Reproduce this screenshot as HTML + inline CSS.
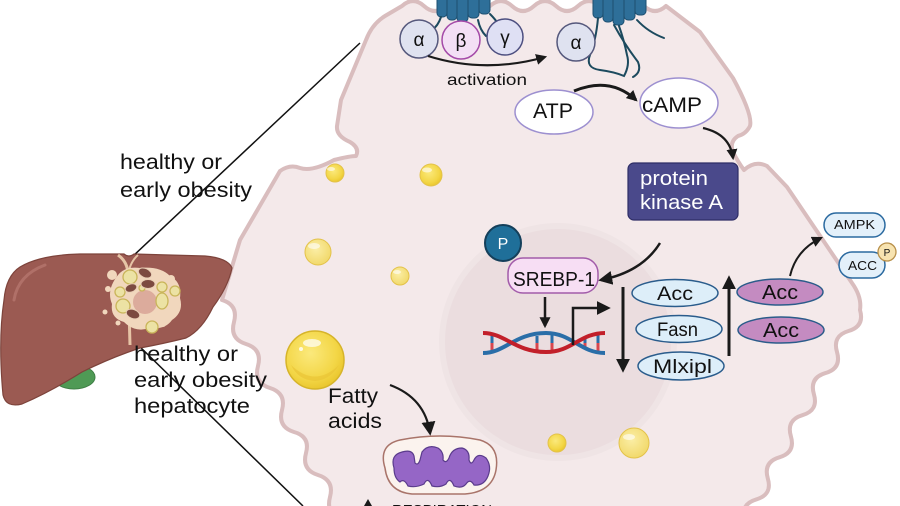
<!DOCTYPE html>
<html><head><meta charset="utf-8"><style>
html,body{margin:0;padding:0;background:#fff;width:900px;height:506px;overflow:hidden}
svg{display:block}
text{font-family:"Liberation Sans",Arial,sans-serif;fill:#111}
</style></head><body>
<svg width="900" height="506" viewBox="0 0 900 506" xmlns="http://www.w3.org/2000/svg">
<defs>
<marker id="ah" viewBox="0 0 10 10" refX="8" refY="5" markerWidth="11" markerHeight="11" markerUnits="userSpaceOnUse" orient="auto"><path d="M0,0 L10,5 L0,10 z" fill="#1a1a1a"/></marker>
<marker id="ahb" viewBox="0 0 10 10" refX="8" refY="5" markerWidth="14" markerHeight="14" markerUnits="userSpaceOnUse" orient="auto"><path d="M0,0 L10,5 L0,10 z" fill="#1a1a1a"/></marker>
<radialGradient id="yel" cx="0.42" cy="0.38" r="0.65"><stop offset="0" stop-color="#fbe97c"/><stop offset="0.7" stop-color="#f3d646"/><stop offset="1" stop-color="#e9c52c"/></radialGradient>
<radialGradient id="yelp" cx="0.42" cy="0.38" r="0.65"><stop offset="0" stop-color="#fbeea6"/><stop offset="1" stop-color="#f1d869"/></radialGradient>
</defs>

<!-- connector lines from liver -->
<line x1="132" y1="257" x2="360" y2="43" stroke="#111" stroke-width="1.5"/>
<line x1="135" y1="342" x2="303" y2="506" stroke="#111" stroke-width="1.5"/>

<!-- cells -->
<path d="M 402,6 Q 413,-4 424,6 Q 435,16 446,6 Q 457,-4 468,6 Q 479,16 490,6 Q 501,-4 512,6 Q 523,16 534,6 Q 545,-4 556,6 Q 567,16 578,6 Q 589,-4 600,6 Q 611,16 622,6 Q 633,-4 644,6 Q 655,16 666,6
L 700,32 L 733,78 Q 753,115 750,126 Q 746,134 738,136 Q 729,142 733,152 Q 738,162 744,170 Q 755,160 767,166 L 787,187 L 852,283 Q 862,297 860,310
Q 864.7,326.3 848.5,331 Q 832.2,335.8 837,352 Q 841.7,368.4 825.4,373.1 Q 809.2,377.9 813.9,394.2 Q 818.7,410.5 802.4,415.2 Q 786.1,420 790.9,436.3 Q 795.6,452.6 779.4,457.3 Q 763.1,462.1 767.8,478.4 Q 772.6,494.7 756.3,499.4 Q 740.1,504.2 744.8,520.5
L 342,520
Q 325.5,513.8 330,497 Q 334.5,480.2 318,475 Q 301.5,469.8 306,453 Q 310.5,436.7 294,432 Q 277.5,426.8 282,410 Q 286.5,393.2 270,388 Q 253.5,382.8 258,366 Q 262.5,349.2 246,344 Q 229.5,338.8 234,322 Q 238.5,305 222,300
L 240,240 L 280,171 Q 290,164 300,168 Q 312,172 334,160 Q 350,156 356,156 Q 360,148 350,142 Q 336,136 337,126 L 341,100 L 366,40 Q 372,24 385,16 Z"
fill="#f4e9ea" stroke="#d9bdbe" stroke-width="4" stroke-linejoin="round"/>

<!-- nucleus -->
<circle cx="558" cy="342" r="116" fill="#ebdddf" stroke="#efe4e5" stroke-width="6"/>

<!-- liver -->
<ellipse cx="74" cy="377" rx="21" ry="12" fill="#4f9a55" stroke="#3f7f45" stroke-width="1"/>
<path d="M 20,267 Q 40,255 80,254 L 124,254 Q 129,258 134,254 L 205,256 Q 228,258 232,268 Q 228,287 213,307 Q 202,330 186,338 Q 162,344 140,348 Q 110,358 82,372 Q 50,392 22,404 Q 6,408 3,395 Q -2,340 4,300 Q 6,276 20,267 Z" fill="#9b5a52" stroke="#7d433b" stroke-width="1.2"/>
<path d="M 14,300 Q 18,275 45,265" stroke="#b07068" stroke-width="3" fill="none" stroke-linecap="round"/>
<path d="M 118,255 Q 128,262 128,275 L 130,345" stroke="#e6c4a6" stroke-width="3" fill="none"/>
<path d="M 138,255 Q 130,262 128,275" stroke="#e6c4a6" stroke-width="2" fill="none"/>
<!-- lesion -->
<path d="M 118,275 Q 125,266 140,268 Q 160,266 170,276 Q 182,282 180,298 Q 184,312 172,320 Q 165,330 150,328 Q 135,333 124,322 Q 110,318 112,304 Q 106,290 118,275 Z" fill="#f1d7bd"/>
<circle cx="145" cy="302" r="12" fill="#dcab9c"/>
<g fill="#f1d7bd"><circle cx="112" cy="275" r="5"/><circle cx="108" cy="289" r="3"/><circle cx="171" cy="279" r="4"/><circle cx="176" cy="303" r="3"/><circle cx="105" cy="312" r="2.5"/><circle cx="172" cy="313" r="3"/><circle cx="163" cy="324" r="3"/><circle cx="118" cy="323" r="2.5"/></g>
<g fill="#ece2a4" stroke="#c9b55a" stroke-width="1.3"><circle cx="130" cy="277" r="7"/><circle cx="120" cy="292" r="5"/><circle cx="123" cy="306" r="7"/><circle cx="162" cy="287" r="5"/><circle cx="175" cy="291" r="5"/><ellipse cx="162" cy="301" rx="6" ry="8"/><circle cx="152" cy="327" r="6"/><circle cx="142" cy="288" r="3"/></g>
<g fill="#7c4a40" stroke="#e9cfb6" stroke-width="1"><ellipse cx="145" cy="273" rx="7" ry="4.5" transform="rotate(25 145 273)"/><ellipse cx="148" cy="284" rx="7" ry="4.5"/><ellipse cx="131" cy="288" rx="6" ry="4" transform="rotate(-20 131 288)"/><ellipse cx="133" cy="314" rx="7" ry="4.5" transform="rotate(20 133 314)"/></g>

<!-- labels left -->
<text x="120" y="169" font-size="21" textLength="102" lengthAdjust="spacingAndGlyphs">healthy or</text>
<text x="120" y="197" font-size="21" textLength="132" lengthAdjust="spacingAndGlyphs">early obesity</text>
<text x="134" y="361" font-size="21" textLength="104" lengthAdjust="spacingAndGlyphs">healthy or</text>
<text x="134" y="387" font-size="21" textLength="133" lengthAdjust="spacingAndGlyphs">early obesity</text>
<text x="134" y="413" font-size="21" textLength="116" lengthAdjust="spacingAndGlyphs">hepatocyte</text>

<!-- receptors -->
<g fill="#2e6f99" stroke="#1d4f70" stroke-width="1">
<rect x="437" y="-6" width="10" height="23" rx="4"/><rect x="447" y="-6" width="10" height="26" rx="4"/><rect x="457" y="-6" width="11" height="28" rx="4"/><rect x="468" y="-6" width="11" height="24" rx="4"/><rect x="479" y="-6" width="11" height="20" rx="4"/>
<rect x="593" y="-6" width="10" height="24" rx="4"/><rect x="603" y="-6" width="10" height="28" rx="4"/><rect x="613" y="-6" width="11" height="31" rx="4"/><rect x="624" y="-6" width="11" height="26" rx="4"/><rect x="635" y="-6" width="11" height="21" rx="4"/>
</g>
<g fill="none" stroke="#1c4a5e" stroke-width="2" stroke-linecap="round">
<path d="M 441,17 Q 438,26 432,30"/><path d="M 478,20 Q 480,30 486,36"/><path d="M 490,14 Q 496,20 498,24"/>
<path d="M 598,18 Q 596,40 590,55 Q 585,68 600,70 Q 615,72 624,76 Q 630,65 627,55 Q 624,40 619,26"/>
<path d="M 614,25 Q 625,45 638,62 Q 642,72 633,77"/>
<path d="M 637,20 Q 648,32 664,38"/>
</g>
<!-- G-protein -->
<circle cx="419" cy="39" r="19" fill="#dfe2f0" stroke="#55587c" stroke-width="1.5"/>
<circle cx="461" cy="40" r="19" fill="#f3dff5" stroke="#a44aa8" stroke-width="1.5"/>
<circle cx="505" cy="37" r="18" fill="#dfe0f4" stroke="#4d4f80" stroke-width="1.5"/>
<circle cx="576" cy="42" r="19" fill="#dfe2f0" stroke="#55587c" stroke-width="1.5"/>
<text x="419" y="46" font-size="19" text-anchor="middle">α</text>
<text x="461" y="47" font-size="19" text-anchor="middle">β</text>
<text x="505" y="44" font-size="19" text-anchor="middle">γ</text>
<text x="576" y="49" font-size="19" text-anchor="middle">α</text>
<path d="M 428,56 Q 485,74 545,57" fill="none" stroke="#1a1a1a" stroke-width="2.2" marker-end="url(#ah)"/>
<text x="447" y="85" font-size="16" textLength="80" lengthAdjust="spacingAndGlyphs">activation</text>

<!-- ATP / cAMP -->
<ellipse cx="554" cy="112" rx="39" ry="22" fill="#fff" stroke="#9d90d0" stroke-width="1.5"/>
<ellipse cx="679" cy="103" rx="39" ry="25" fill="#fff" stroke="#9d90d0" stroke-width="1.5"/>
<text x="533" y="118" font-size="21" textLength="40" lengthAdjust="spacingAndGlyphs">ATP</text>
<text x="642" y="112" font-size="21" textLength="60" lengthAdjust="spacingAndGlyphs">cAMP</text>
<path d="M 574,91 Q 610,76 636,100" fill="none" stroke="#1a1a1a" stroke-width="3" marker-end="url(#ah)"/>
<path d="M 703,128 Q 730,134 733,158" fill="none" stroke="#1a1a1a" stroke-width="2.2" marker-end="url(#ah)"/>

<!-- PKA -->
<rect x="628" y="163" width="110" height="57" rx="6" fill="#4a498b" stroke="#2e2d66" stroke-width="1.2"/>
<text x="640" y="185" font-size="20" style="fill:#fff" textLength="68" lengthAdjust="spacingAndGlyphs">protein</text>
<text x="640" y="209" font-size="20" style="fill:#fff" textLength="83" lengthAdjust="spacingAndGlyphs">kinase A</text>
<path d="M 660,243 Q 642,272 601,280" fill="none" stroke="#1a1a1a" stroke-width="2.5" marker-end="url(#ahb)"/>

<!-- SREBP-1 -->
<circle cx="503" cy="243" r="18" fill="#1f6f99" stroke="#143f5a" stroke-width="2"/>
<text x="503" y="249" font-size="16" text-anchor="middle" style="fill:#fff">P</text>
<rect x="508" y="258" width="90" height="35" rx="15" fill="#f7def4" stroke="#a25caa" stroke-width="1.5"/>
<text x="513" y="286" font-size="20" textLength="82" lengthAdjust="spacingAndGlyphs">SREBP-1</text>
<line x1="545" y1="297" x2="545" y2="326" stroke="#1a1a1a" stroke-width="2.5" marker-end="url(#ah)"/>

<!-- DNA -->
<g stroke-width="3">
<line x1="492" y1="335" x2="492" y2="343" stroke="#2a6ea8"/><line x1="492" y1="343" x2="492" y2="351" stroke="#d8464e"/>
<line x1="537" y1="336" x2="537" y2="343" stroke="#2a6ea8"/><line x1="537" y1="343" x2="537" y2="350" stroke="#d8464e"/>
<line x1="552" y1="334" x2="552" y2="343" stroke="#2a6ea8"/><line x1="552" y1="343" x2="552" y2="351" stroke="#d8464e"/>
<line x1="585" y1="337" x2="585" y2="343" stroke="#2a6ea8"/><line x1="585" y1="343" x2="585" y2="349" stroke="#d8464e"/>
<line x1="598" y1="334" x2="598" y2="343" stroke="#2a6ea8"/><line x1="598" y1="343" x2="598" y2="352" stroke="#d8464e"/>
</g>
<path d="M 483,353 C 505,353 515,333 546,333 C 572,333 580,353 605,353" fill="none" stroke="#2a6ea8" stroke-width="4"/>
<path d="M 483,333 C 505,333 515,352 546,352 C 572,352 580,333 605,333" fill="none" stroke="#c21f2a" stroke-width="4"/>
<path d="M 573,345 L 573,308 L 608,308" fill="none" stroke="#1a1a1a" stroke-width="2.5" marker-end="url(#ahb)"/>
<line x1="623" y1="287" x2="623" y2="370" stroke="#1a1a1a" stroke-width="3" marker-end="url(#ahb)"/>

<!-- blue genes -->
<g fill="#ddeef9" stroke="#2a5c8c" stroke-width="1.5">
<ellipse cx="675" cy="293" rx="43" ry="13.5"/>
<ellipse cx="679" cy="329" rx="43" ry="13.5"/>
<ellipse cx="681" cy="366" rx="43" ry="14"/>
</g>
<text x="657" y="300" font-size="19" textLength="36" lengthAdjust="spacingAndGlyphs">Acc</text>
<text x="657" y="336" font-size="19" textLength="41" lengthAdjust="spacingAndGlyphs">Fasn</text>
<text x="653" y="373" font-size="19" textLength="59" lengthAdjust="spacingAndGlyphs">Mlxipl</text>
<line x1="729" y1="356" x2="729" y2="278" stroke="#1a1a1a" stroke-width="3" marker-end="url(#ahb)"/>

<!-- purple Acc -->
<g fill="#c48bc1" stroke="#2b5c8a" stroke-width="1.5">
<ellipse cx="780" cy="292" rx="43" ry="13"/>
<ellipse cx="781" cy="330" rx="43" ry="13"/>
</g>
<text x="762" y="299" font-size="20" textLength="36" lengthAdjust="spacingAndGlyphs">Acc</text>
<text x="763" y="337" font-size="20" textLength="36" lengthAdjust="spacingAndGlyphs">Acc</text>
<path d="M 790,276 Q 796,250 821,238" fill="none" stroke="#1a1a1a" stroke-width="2" marker-end="url(#ah)"/>

<!-- AMPK / ACC -->
<rect x="824" y="213" width="61" height="24" rx="12" fill="#e3f0fa" stroke="#2b6aa0" stroke-width="1.5"/>
<text x="834" y="229" font-size="13" textLength="41" lengthAdjust="spacingAndGlyphs">AMPK</text>
<rect x="839" y="252" width="46" height="26" rx="13" fill="#e3f0fa" stroke="#2b6aa0" stroke-width="1.5"/>
<text x="848" y="270" font-size="13" textLength="29" lengthAdjust="spacingAndGlyphs">ACC</text>
<circle cx="887" cy="252" r="9" fill="#f7e3b0" stroke="#b8904a" stroke-width="1.3"/>
<text x="887" y="256" font-size="10" text-anchor="middle">P</text>

<!-- lipid droplets -->
<g stroke="#e3c24a" stroke-width="1">
<circle cx="335" cy="173" r="9" fill="url(#yel)"/>
<circle cx="431" cy="175" r="11" fill="url(#yel)"/>
<circle cx="318" cy="252" r="13" fill="url(#yelp)"/>
<circle cx="400" cy="276" r="9" fill="url(#yelp)"/>
<circle cx="557" cy="443" r="9" fill="url(#yel)"/>
<circle cx="634" cy="443" r="15" fill="url(#yelp)"/>
</g>
<g fill="#fff" opacity="0.6">
<ellipse cx="331" cy="169" rx="4" ry="2"/><ellipse cx="427" cy="170" rx="5" ry="2.5"/><ellipse cx="314" cy="246" rx="6" ry="3"/><ellipse cx="397" cy="272" rx="4" ry="2"/><ellipse cx="629" cy="437" rx="6" ry="3"/>
</g>
<circle cx="315" cy="360" r="29" fill="url(#yel)" stroke="#d6b42a" stroke-width="1.5"/>
<path d="M 291,365 Q 315,388 339,365 Q 330,380 315,381 Q 298,380 291,365 Z" fill="#e9c436" opacity="0.7"/>
<ellipse cx="312" cy="343" rx="9" ry="4" fill="#fff" opacity="0.7"/>
<circle cx="301" cy="349" r="2" fill="#fff" opacity="0.8"/>

<!-- Fatty acids -->
<text x="328" y="403" font-size="21" textLength="50" lengthAdjust="spacingAndGlyphs">Fatty</text>
<text x="328" y="428" font-size="21" textLength="54" lengthAdjust="spacingAndGlyphs">acids</text>
<path d="M 390,385 Q 425,398 430,433" fill="none" stroke="#1a1a1a" stroke-width="2.2" marker-end="url(#ahb)"/>

<!-- mitochondrion -->
<path d="M 385,468 Q 378,445 400,440 Q 440,432 480,440 Q 500,446 496,470 Q 492,492 465,494 L 412,494 Q 388,492 385,468 Z" fill="#fbf3ee" stroke="#a9746a" stroke-width="1.5"/>
<path d="M 394,468 Q 390,455 402,452 Q 412,449 414,456 L 415,463 Q 418,466 420,460 L 422,452 Q 428,444 438,448 Q 444,452 443,460 Q 446,464 449,458 Q 452,448 462,448 Q 470,450 469,460 Q 471,466 474,460 Q 478,452 486,458 Q 492,466 488,476 Q 484,486 474,485 Q 470,478 466,484 Q 462,489 454,486 Q 450,476 446,484 Q 440,488 432,486 Q 428,476 424,484 Q 416,488 408,486 Q 404,478 400,482 Q 394,478 394,468 Z" fill="#9566c6" stroke="#5a3b8c" stroke-width="1.2"/>

<!-- RESPIRATION (cut off) -->
<line x1="368" y1="502" x2="368" y2="515" stroke="#1a1a1a" stroke-width="2"/>
<path d="M 368,499 L 364,506 L 372,506 Z" fill="#1a1a1a"/>
<text x="392" y="515" font-size="15" textLength="100" lengthAdjust="spacingAndGlyphs">RESPIRATION</text>
</svg>
</body></html>
